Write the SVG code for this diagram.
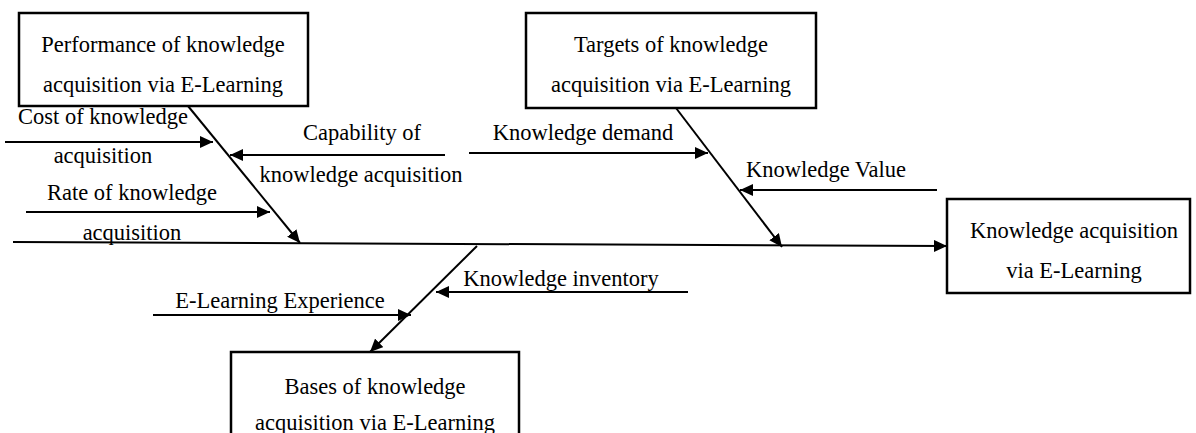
<svg xmlns="http://www.w3.org/2000/svg" width="1196" height="433" viewBox="0 0 1196 433">
<style>
.box{fill:#fff;stroke:#000;stroke-width:2.5}
.ln{stroke:#000;stroke-width:2;fill:none;marker-end:url(#ah)}
.t{font-family:'Liberation Serif','DejaVu Serif',serif;font-size:22.5px;fill:#000;text-anchor:middle}
</style>
<defs>
<marker id="ah" markerUnits="userSpaceOnUse" markerWidth="14" markerHeight="12" refX="13" refY="6" orient="auto">
<path d="M0,0 L13,6 L0,12 z" fill="#000"/>
</marker>
</defs>
<rect width="1196" height="433" fill="#fff"/>
<g id="connectors">
<line class="ln" x1="13" y1="242" x2="947" y2="246"/>
<line class="ln" x1="188" y1="106" x2="300" y2="243"/>
<line class="ln" x1="676" y1="108" x2="782" y2="247"/>
<line class="ln" x1="477" y1="246" x2="370" y2="352"/>
<line class="ln" x1="5" y1="142" x2="213" y2="142"/>
<line class="ln" x1="26" y1="212" x2="270" y2="212"/>
<line class="ln" x1="445" y1="155" x2="230" y2="155"/>
<line class="ln" x1="469" y1="153" x2="708" y2="153"/>
<line class="ln" x1="937" y1="190" x2="740" y2="190"/>
<line class="ln" x1="688" y1="292" x2="436" y2="292"/>
<line class="ln" x1="153" y1="315" x2="411" y2="315"/>
</g>
<g id="labels">
<text class="t" x="103" y="124">Cost of knowledge</text>
<text class="t" x="103" y="163">acquisition</text>
<text class="t" x="132" y="200">Rate of knowledge</text>
<text class="t" x="132" y="240">acquisition</text>
<text class="t" x="362" y="140">Capability of</text>
<text class="t" x="361" y="182">knowledge acquisition</text>
<text class="t" x="583" y="140">Knowledge demand</text>
<text class="t" x="826" y="177">Knowledge Value</text>
<text class="t" x="561" y="286">Knowledge inventory</text>
<text class="t" x="280" y="308">E-Learning Experience</text>
</g>
<g id="performance">
<rect class="box" x="19" y="13" width="289" height="93"/>
<text class="t" x="163" y="52">Performance of knowledge</text>
<text class="t" x="163" y="92">acquisition via E-Learning</text>
</g>
<g id="targets">
<rect class="box" x="526" y="13" width="290" height="95"/>
<text class="t" x="671" y="52">Targets of knowledge</text>
<text class="t" x="671" y="92">acquisition via E-Learning</text>
</g>
<g id="result">
<rect class="box" x="947" y="199" width="243" height="94"/>
<text class="t" x="1074" y="238">Knowledge acquisition</text>
<text class="t" x="1074" y="278">via E-Learning</text>
</g>
<g id="bases">
<rect class="box" x="231" y="352" width="288" height="100"/>
<text class="t" x="375" y="394">Bases of knowledge</text>
<text class="t" x="375" y="430">acquisition via E-Learning</text>
</g>
</svg>
